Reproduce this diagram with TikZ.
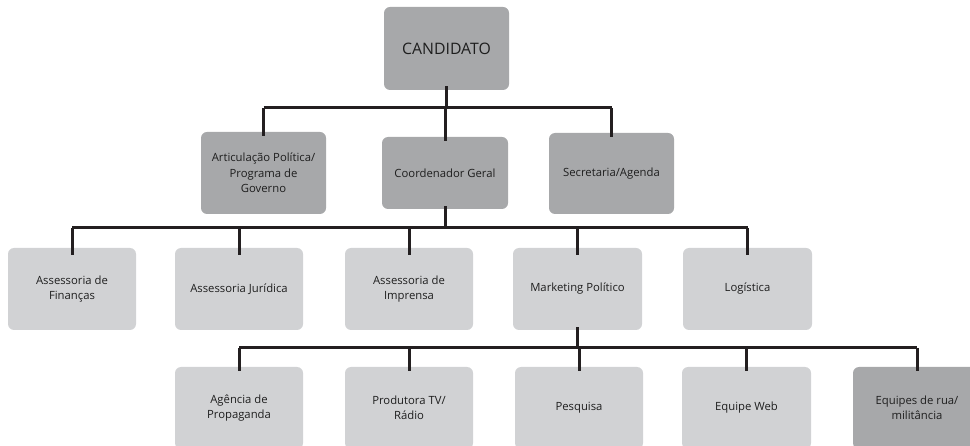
\documentclass[tikz,border=0pt]{standalone}
\usepackage{fontspec}
\setmainfont{Open Sans}
\definecolor{boxdark}{HTML}{A7A8AA}
\definecolor{boxlight}{HTML}{D1D2D4}
\definecolor{ink}{HTML}{231F20}
\definecolor{txt}{HTML}{1E1E1E}
\begin{document}
\begin{tikzpicture}[x=1pt,y=-1pt,
  orgbox/.style={rounded corners=6pt, draw=none, text=txt, align=center,
    font=\fontsize{11.3}{15.5}\selectfont, inner sep=0pt},
  dark/.style={orgbox, fill=boxdark},
  light/.style={orgbox, fill=boxlight},
  link/.style={draw=ink, line width=3pt},
]
\useasboundingbox (0,0) rectangle (970,446);
\clip (0,0) rectangle (970,446);

% top level
\node[dark, minimum width=125pt, minimum height=83pt,
  font=\fontsize{15.8}{19}\selectfont] (cand) at (446.5,48.5) {CANDIDATO};

% second level
\node[dark, minimum width=125pt, minimum height=82pt] (art) at (263.5,173) {Articulação Política/\\Programa de\\Governo};
\node[dark, minimum width=126pt, minimum height=72pt] (coord) at (445,173) {Coordenador Geral};
\node[dark, minimum width=125pt, minimum height=81pt] (sec) at (611.5,173.5) {Secretaria/Agenda};

% third level
\node[light, minimum width=128pt, minimum height=82pt] (fin) at (72,289) {Assessoria de\\Finanças};
\node[light, minimum width=128pt, minimum height=82pt] (jur) at (239,289) {Assessoria Jurídica};
\node[light, minimum width=128pt, minimum height=82pt] (imp) at (409,289) {Assessoria de\\Imprensa};
\node[light, minimum width=129pt, minimum height=82pt] (mkt) at (577.5,289) {Marketing Político};
\node[light, minimum width=129pt, minimum height=82pt] (log) at (747.5,289) {Logística};

% fourth level
\node[light, minimum width=128pt, minimum height=82pt] (ag) at (239,408) {Agência de\\Propaganda};
\node[light, minimum width=128pt, minimum height=82pt] (prod) at (409,408) {Produtora TV/\\Rádio};
\node[light, minimum width=128pt, minimum height=82pt] (pes) at (579,408) {Pesquisa};
\node[light, minimum width=129pt, minimum height=82pt] (web) at (746.5,408) {Equipe Web};
\node[dark, minimum width=128pt, minimum height=82pt] (rua) at (917,408) {Equipes de rua/\\militância};

% bus lines
\coordinate (b1) at (0,108);
\coordinate (b2) at (0,228);
\coordinate (b3) at (0,348);

\draw[link] (art.north |- b1) -- (sec.north |- b1);
\draw[link] ([yshift=4pt]cand.south) -- (cand.south |- b1);
\foreach \n in {art,coord,sec}
  \draw[link] (\n.north |- b1) -- ([yshift=-5pt]\n.north |- b1) |- ([yshift=-4pt]\n.north);

\draw[link] (fin.north |- b2) -- (log.north |- b2);
\draw[link] ([yshift=3pt]coord.south) -- (coord.south |- b2);
\foreach \n in {fin,jur,imp,mkt,log}
  \draw[link] (\n.north |- b2) -- ([yshift=-7pt]\n.north);

\draw[link] (ag.north |- b3) -- (rua.north |- b3);
\draw[link] ([yshift=3pt]mkt.south) -- (mkt.south |- b3);
\foreach \n in {ag,prod,pes,web,rua}
  \draw[link] (\n.north |- b3) -- ([yshift=-4pt]\n.north);
\end{tikzpicture}
\end{document}
